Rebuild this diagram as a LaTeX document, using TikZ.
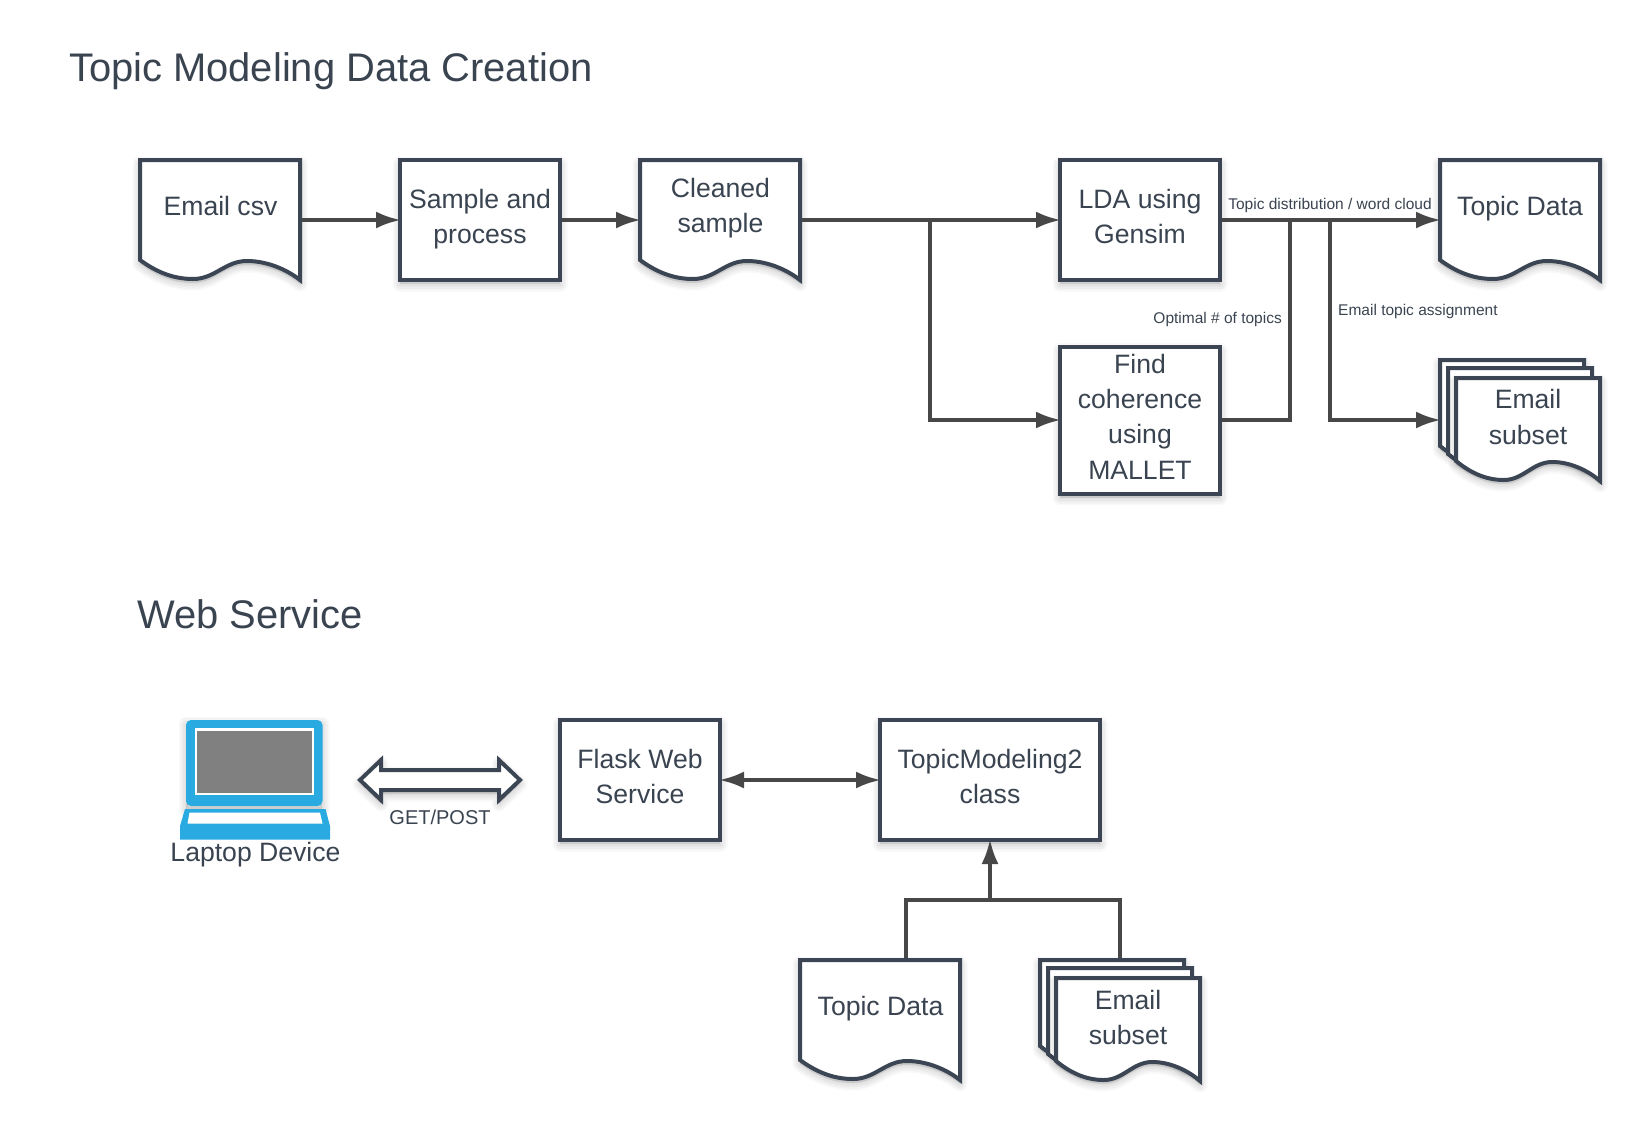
\documentclass[tikz,border=0pt]{standalone}
\usepackage{fontspec}
\setmainfont{Liberation Sans}
\usetikzlibrary{arrows.meta,calc}
\definecolor{edgec}{HTML}{3B4554}
\definecolor{linec}{HTML}{474747}
\definecolor{textc}{HTML}{3A4451}
\definecolor{lapblue}{HTML}{29AAE1}
\tikzset{
  x=1pt,y=-1pt,
  shapeline/.style={draw=edgec,line width=4pt,fill=white,line join=miter},
  conn/.style={draw=linec,line width=4pt,line join=miter},
  arr/.style={conn,-{Latex[length=25pt,width=17pt,color=linec]},shorten >=-3pt},
  arrs/.style={conn,{Latex[length=25pt,width=17pt,color=linec]}-{Latex[length=25pt,width=17pt,color=linec]},shorten >=-3pt,shorten <=-3pt},
  anchorbox/.style={inner sep=0pt,outer sep=2pt},
  body/.style={text=textc,align=center,inner sep=0pt,font=\fontsize{26.6}{35.3}\selectfont,
    execute at begin node=\strut,execute at end node=\strut},
  small/.style={text=textc,inner sep=0pt,font=\fontsize{15.5}{18}\selectfont},
  title/.style={text=textc,inner sep=0pt,anchor=west,font=\fontsize{39.9}{46}\selectfont},
}
% soft shadow of any path given as #1
\newcommand{\softshade}[1]{%
  \foreach \lw in {15,12,9,6,3}{%
    \begin{scope}[yshift=-4pt]
      \path[draw=black,fill=black,draw opacity=.022,fill opacity=.022,line width=\lw pt,line join=round] #1;
    \end{scope}}}
\newcommand{\docp}[1]{(0,0) -- (160,0) -- (160,#1) .. controls (150,{#1-8}) and (130,{#1-19}) .. (107,{#1-19}) .. controls (85,{#1-19}) and (75,{#1-1}) .. (53,{#1-1}) .. controls (32,{#1-1}) and (15,{#1-9}) .. (0,{#1-20}) -- cycle}
% x, y, width, height-to-tip
\newcommand{\docshade}[4]{\begin{scope}[shift={(#1,#2)},x=#3/160*1pt]\softshade{\docp{#4}}\end{scope}}
\newcommand{\docdraw}[4]{\begin{scope}[shift={(#1,#2)},x=#3/160*1pt]\path[shapeline] \docp{#4};\end{scope}}
% name, left, top, width, height, text-x, text-y, text
\newcommand{\doc}[8]{%
  \docshade{#2}{#3}{#4}{#5}\docdraw{#2}{#3}{#4}{#5}%
  \node[anchorbox,minimum width=#4 pt,minimum height=120pt] (#1) at ({#2+#4/2},{#3+60}) {};
  \node[body] (#1t) at (#6,#7) {#8};}
% name, left, top, text-x, text-y, text (stack of three)
\newcommand{\docstack}[6]{%
  \docshade{#2}{#3}{144}{106}\docdraw{#2}{#3}{144}{106}%
  \docdraw{\the\numexpr#2+8\relax}{\the\numexpr#3+8\relax}{144}{106}%
  \docshade{\the\numexpr#2+16\relax}{\the\numexpr#3+18\relax}{144}{103}\docdraw{\the\numexpr#2+16\relax}{\the\numexpr#3+18\relax}{144}{103}%
  \node[anchorbox,minimum width=160pt,minimum height=120pt] (#1) at ({#2+80},{#3+60}) {};
  \node[body] (#1t) at (#4,#5) {#6};}
% name, left, top, width, height, text-y offset, text
\newcommand{\boxn}[7]{%
  \softshade{(#2,#3) rectangle ++(#4,#5)}
  \path[shapeline] (#2,#3) rectangle ++(#4,#5);
  \node[anchorbox,minimum width=#4 pt,minimum height=#5 pt] (#1) at ({#2+#4/2},{#3+#5/2}) {};
  \node[body] (#1t) at ($(#1.center)+(0,#6)$) {#7};}
\begin{document}
\begin{tikzpicture}
\useasboundingbox (0,0) rectangle (1640,1120);

\node[title] (t1) at (69,71) {Topic Modeling Data Creation};
\node[title] (t2) at (137,614) {Web Service};

% top row
\doc{csv}{140}{160}{160}{120}{220.5}{208}{Email csv}
\boxn{sample}{400}{160}{160}{120}{1.7}{Sample and\\process}
\doc{clean}{640}{160}{160}{120}{720.5}{211}{Cleaned\\sample}
\boxn{lda}{1060}{160}{160}{120}{1.7}{LDA using\\Gensim}
\boxn{find}{1060}{346.5}{160}{147}{1.7}{Find\\coherence\\using\\MALLET}
\doc{topic}{1440}{160}{160}{120}{1520}{208}{Topic Data}
\docstack{stack}{1440}{360}{1528}{422}{Email\\subset}

\coordinate (j1) at (930,220);
\coordinate (j2) at (1290,220);
\coordinate (j3) at (1330,220);
\draw[arr] (csv.east) -- (sample.west);
\draw[arr] (sample.east) -- (clean.west);
\draw[arr] (clean.east) -- (lda.west);
\draw[arr] (j1) |- (find.west);
\draw[arr] (lda.east) -- (topic.west);
\draw[conn] (find.east) -| (j2);
\draw[arr] (j3) |- (stack.west);

\node[small] (l1) at (1330,205.5) {Topic distribution / word cloud};
\node[small,anchor=east] (l2) at (1282,319.5) {Optimal \# of topics};
\node[small,anchor=west] (l3) at (1338,311.5) {Email topic assignment};

% laptop
\begin{scope}
\softshade{(186,720) rectangle (322,806)}
\fill[lapblue,rounded corners=5pt] (186,720) rectangle (322.5,806);
\fill[white] (195,728) rectangle (314,795);
\fill[gray] (197,731) rectangle (312,792.5);
\fill[lapblue] (185,809) -- (325.5,809) -- (330,826) -- (330,839.5) -- (180,839.5) -- (180,826) -- cycle;
\fill[white] (189.5,812.5) -- (320,812.5) -- (322.5,823.5) -- (187.5,823.5) -- cycle;
\end{scope}
\node[body] (lap) at (255.5,854) {Laptop Device};

% GET/POST
\softshade{(360,780) -- (381,760) -- (381,770) -- (499,770) -- (499,760) -- (520,780) -- (499,800) -- (499,790) -- (381,790) -- (381,800) -- cycle}
\path[shapeline] (360,780) -- (381,760) -- (381,770) -- (499,770) -- (499,760) -- (520,780) -- (499,800) -- (499,790) -- (381,790) -- (381,800) -- cycle;
\node[text=textc,inner sep=0pt,font=\fontsize{20}{24}\selectfont] (gp) at (440,817) {GET/POST};

\boxn{flask}{560}{720}{160}{120}{1.7}{Flask Web\\Service}
\boxn{tm}{880}{720}{220}{120}{1.7}{TopicModeling2\\class}
\draw[arrs] (flask.east) -- (tm.west);

\doc{topicb}{800}{960}{160}{120}{880.5}{1008}{Topic Data}
\docstack{stackb}{1040}{960}{1128}{1022.5}{Email\\subset}
\coordinate (ja) at (906,958);
\coordinate (jb) at (1120,958);
\coordinate (jm) at (990,900);
\draw[conn] (ja) |- (jm) -| (jb);
\draw[arr] (jm) -- (jm |- tm.south);
\end{tikzpicture}
\end{document}
